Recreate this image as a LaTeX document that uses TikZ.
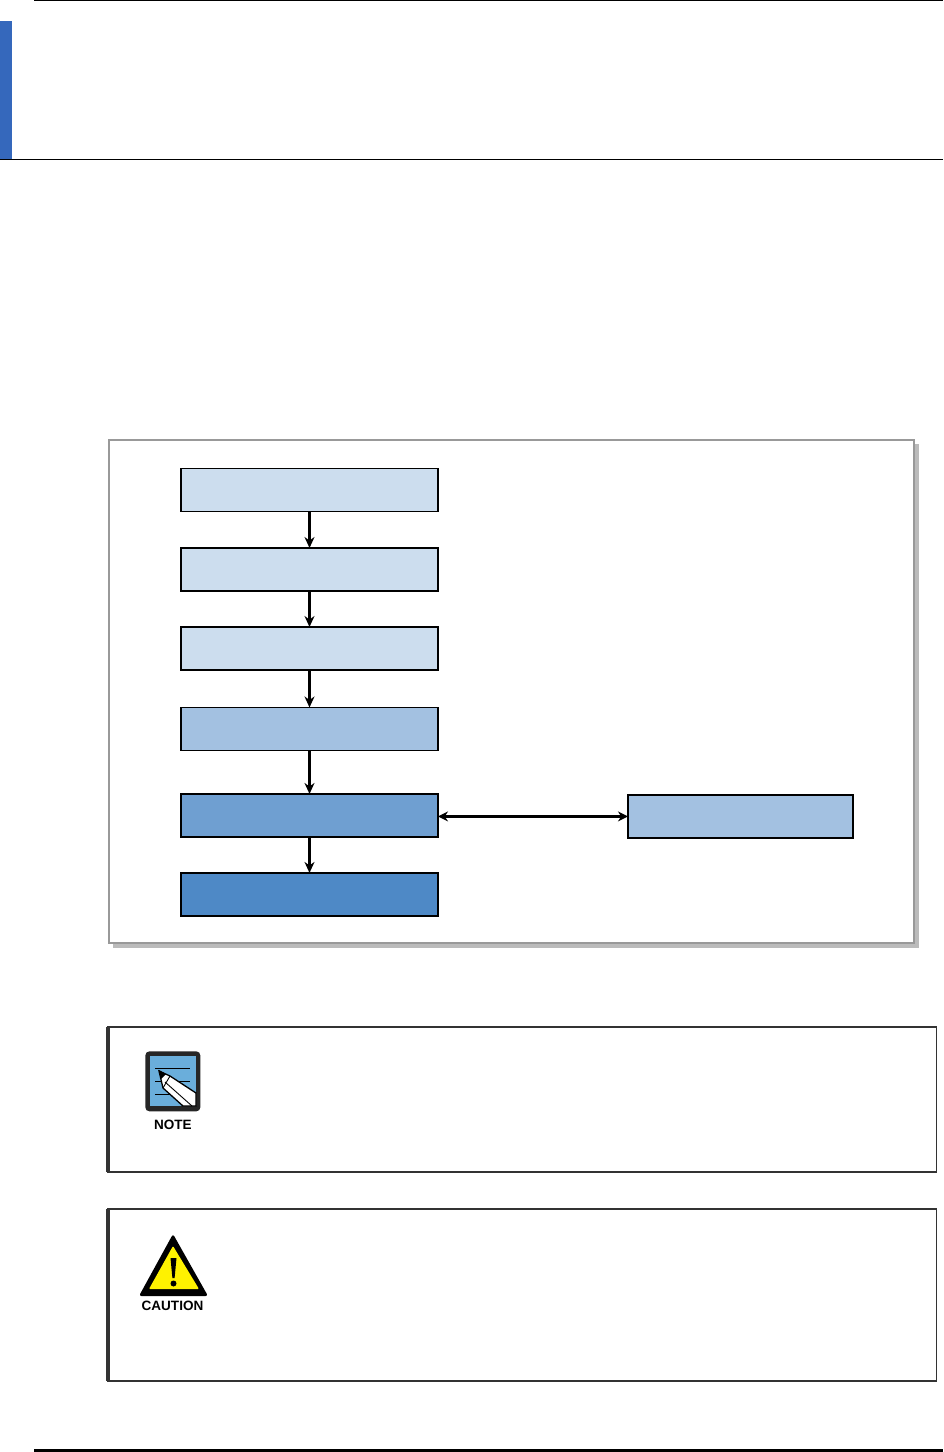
\documentclass[tikz,border=0pt]{standalone}
\usepackage{fontspec}
\setmainfont{Liberation Sans}
\usepackage{xcolor}
\usepackage{tikz}
\usetikzlibrary{arrows,arrows.meta,positioning,calc}

\definecolor{paleblue}{HTML}{CCDDEE}
\definecolor{midblue}{HTML}{A3C1E1}
\definecolor{strongblue}{HTML}{6F9FD1}
\definecolor{deepblue}{HTML}{4E89C6}
\definecolor{barblue}{HTML}{3568BC}
\definecolor{iconblue}{HTML}{6AAEDB}
\definecolor{framegray}{HTML}{999999}
\definecolor{shadowgray}{HTML}{BBBBBB}
\definecolor{signyellow}{HTML}{FFF200}

\begin{document}
\begin{tikzpicture}[
  x=0.02cm, y=-0.02cm,
  node distance=0.72cm,
  block/.style={rectangle, draw, outer sep=0pt, inner sep=0pt, line width=0.026cm, minimum height=0.86cm, minimum width=5.14cm},
  heavy/.style={line width=0.044cm},
  arrow/.style={-{Stealth[length=0.22cm,width=0.2cm]}, line width=0.05cm},
  notebox/.style={rectangle, draw=black!80, anchor=north west, outer sep=0pt, inner sep=0pt, line width=0.024cm, minimum width=16.58cm},
  iconlabel/.style={font=\fontsize{7.7pt}{8pt}\selectfont\bfseries, inner sep=0pt}
]
\useasboundingbox (0,0) rectangle (943,1452);

% Page rules
\fill[barblue] (0,21) rectangle (12,159);
\draw[line width=0.03cm] (34,0.5) -- (943,0.5);
\draw[line width=0.024cm] (0,159.5) -- (943,159.5);
\draw[line width=0.06cm] (34,1450.5) -- (943,1450.5);

% Frame
\node[rectangle, fill=shadowgray, anchor=north west, inner sep=0pt, minimum width=16.12cm, minimum height=10.08cm] (shadow) at (113,443.5) {};
\node[rectangle, draw=framegray, fill=white, anchor=north west, outer sep=0pt, inner sep=0pt, line width=0.04cm, minimum width=16.1cm, minimum height=10.06cm] (frame) at (109,440) {};

% Main column
\node[block, fill=paleblue] (load) at (309.5,490) {};
\node[block, heavy, fill=paleblue, below=0.73cm of load] (init) {};
\node[block, fill=paleblue, below=0.72cm of init] (setup) {};
\node[block, fill=midblue, below=0.75cm of setup] (check) {};
\node[block, heavy, fill=strongblue, below=0.87cm of check] (run) {};
\node[block, heavy, fill=deepblue, below=0.72cm of run] (done) {};

% Side block
\node[block, heavy, fill=midblue, minimum width=4.5cm, right=3.8cm of run, yshift=-0.02cm] (side) {};

% Arrows
\draw[arrow] (load) -- (init);
\draw[arrow] (init) -- (setup);
\draw[arrow] (setup) -- (check);
\draw[arrow] (check) -- (run);
\draw[arrow] (run) -- (done);
\draw[{Stealth[length=0.2cm,width=0.2cm]}-{Stealth[length=0.2cm,width=0.2cm]}, line width=0.05cm] (run.east |- side.west) -- (side.west);

% Note
\node[notebox, minimum height=2.9cm] (note) at (107.5,1027) {};
\draw[black!80, line width=0.08cm] (note.north west) -- (note.south west);
\node[rectangle, fill=black!85, rounded corners=0.08cm, anchor=north west, inner sep=0pt, minimum width=1.1cm, minimum height=1.2cm] (noteicon) at (145,1051) {};
\fill[iconblue] (150,1056) rectangle (196,1106);
\draw[line width=0.018cm] (155,1068) -- (190,1068) (155,1081) -- (190,1081) (155,1094) -- (175,1094);
\draw[fill=white, line width=0.026cm] (159,1071) -- (170,1076) -- (196,1093) -- (196,1106) -- (183,1106) -- (163,1088) -- cycle;
\draw[line width=0.018cm] (165,1082) -- (192,1106);
\draw[line width=0.018cm] (170,1076) -- (163,1088);
\fill (159,1070) -- (166,1074) -- (161,1079) -- cycle;
\node[iconlabel, below=0.16cm of noteicon] (notelabel) {NOTE};

% Caution
\node[notebox, minimum height=3.44cm] (caution) at (107.5,1209) {};
\draw[black!80, line width=0.08cm] (caution.north west) -- (caution.south west);
\fill[black, rounded corners=0.05cm] (173,1234) -- (208,1296) -- (139,1296) -- cycle;
\fill[signyellow, rounded corners=0.02cm] (173,1246) -- (199,1289) -- (149,1289) -- cycle;
\fill[black] (170.5,1258) -- (176.5,1258) -- (174.6,1278) -- (172.4,1278) -- cycle;
\fill[black] (173.5,1283.5) circle (3);
\node[iconlabel] (cautionlabel) at (172.5,1305.5) {CAUTION};
\end{tikzpicture}
\end{document}
